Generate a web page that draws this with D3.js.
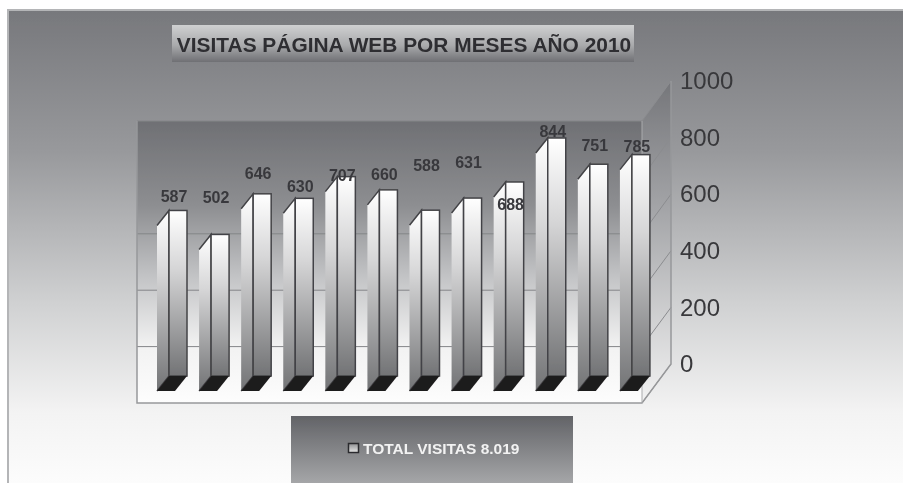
<!DOCTYPE html>
<html>
<head>
<meta charset="utf-8">
<script src="https://cdn.jsdelivr.net/npm/d3@7"></script>
<style>
  html, body { margin: 0; padding: 0; background: #fff; }
  svg { display: block; font-family: "Liberation Sans", Arial, sans-serif; }
</style>
</head>
<body>
<div id="chart"></div>
<script>
"use strict";

// values
const months = ["Ene", "Feb", "Mar", "Abr", "May", "Jun", "Jul", "Ago", "Sep", "Oct", "Nov", "Dic"];
const visitas = [587, 502, 646, 630, 707, 660, 588, 631, 688, 844, 751, 785];
const yTicks = [0, 200, 400, 600, 800, 1000];
const chartTitle = "VISITAS PÁGINA WEB POR MESES AÑO 2010";
const legendText = "TOTAL VISITAS 8.019";

// the value labels sit at uneven heights in the original
const labelLift = [14, 37, 20, 12, 1, 15, 45, 36, -22, 7, 19, 8];

const width = 903, height = 483;

// the three planes of the fake 3d box share one scale span, only shifted
const x = d3.scaleBand().domain(months).range([137, 642]);
const yWall = d3.scaleLinear().domain([0, 1000]).range([403, 121]);
const yBar = d3.scaleLinear().domain([0, 1000]).range([376, 94]);
const yAxis = d3.scaleLinear().domain([0, 1000]).range([364, 81]);

const sideDepth = 29;     // right wall, horizontal
const barInset = 20;      // from the band start to the bar's left edge
const barDepth = 12;      // side face width
const barFront = 18;      // front face width
const barDrop = 15;       // side face vertical shift
const labelShift = 17;    // label centre from the bar's left edge

const svg = d3.select("#chart").append("svg")
    .attr("width", width)
    .attr("height", height);

const defs = svg.append("defs");

function gradient(id, stops) {
  const g = defs.append("linearGradient").attr("id", id)
      .attr("x1", 0).attr("y1", 0).attr("x2", 0).attr("y2", 1);
  stops.forEach(function(s) {
    g.append("stop").attr("offset", s[0]).attr("stop-color", s[1]);
  });
}

gradient("panelGrad", [[0, "#77787c"], [0.3, "#98999c"], [0.62, "#d0d1d2"], [0.85, "#f3f3f3"], [1, "#fcfcfc"]]);
gradient("wallGrad", [[0, "#6f7074"], [0.3, "#8d8e91"], [0.55, "#c2c3c5"], [0.8, "#f2f2f2"], [1, "#fdfdfd"]]);
gradient("sideGrad", [[0, "#75767a"], [0.4, "#a4a5a8"], [1, "#f2f2f2"]]);
gradient("barGrad", [[0, "#ffffff"], [0.35, "#d6d6d7"], [1, "#727375"]]);
gradient("titleGrad", [[0, "#cfd0d1"], [0.55, "#a9aaac"], [1, "#6f7074"]]);
gradient("legendGrad", [[0, "#626367"], [1, "#a5a6a8"]]);
gradient("keyGrad", [[0, "#8e8f91"], [1, "#e8e8e8"]]);

// the original is a soft scan, everything gets a slight blur
defs.append("filter").attr("id", "soft")
    .attr("filterUnits", "userSpaceOnUse")
    .attr("x", 0).attr("y", 0)
    .attr("width", width).attr("height", height)
    .append("feGaussianBlur").attr("stdDeviation", 0.5);

const root = svg.append("g").attr("filter", "url(#soft)");

// page background
root.append("rect")
    .attr("x", 8).attr("y", 10)
    .attr("width", width - 8).attr("height", height - 10)
    .attr("fill", "url(#panelGrad)");
root.append("path")
    .attr("d", d3.line()([[8, height], [8, 10], [width, 10]]))
    .attr("fill", "none")
    .attr("stroke", "#b4b5b7")
    .attr("stroke-width", 2);

// title
const title = root.append("g");
title.append("rect")
    .attr("x", 172).attr("y", 25)
    .attr("width", 462).attr("height", 37)
    .attr("fill", "url(#titleGrad)");
title.append("text")
    .attr("x", 404).attr("y", 51.5)
    .attr("text-anchor", "middle")
    .attr("font-size", 20.9)
    .attr("font-weight", "bold")
    .attr("fill", "#2e2e31")
    .text(chartTitle);

// back wall and gridlines
const plot = root.append("g");
plot.append("rect")
    .attr("x", x.range()[0]).attr("y", yWall(1000))
    .attr("width", x.range()[1] - x.range()[0])
    .attr("height", yWall(0) - yWall(1000))
    .attr("fill", "url(#wallGrad)");

plot.selectAll(".grid")
  .data(yTicks.slice(1))
  .enter().append("line")
    .attr("class", "grid")
    .attr("x1", x.range()[0]).attr("x2", x.range()[1])
    .attr("y1", yWall).attr("y2", yWall)
    .attr("stroke", "#848588");

// right wall
const wallRight = x.range()[1];
const sideX = wallRight + sideDepth;
plot.append("path")
    .attr("d", d3.line()([
      [wallRight, yWall(1000)], [sideX, yAxis(1000)],
      [sideX, yAxis(0)], [wallRight, yWall(0)]
    ]))
    .attr("fill", "url(#sideGrad)");

plot.selectAll(".sideGrid")
  .data(yTicks)
  .enter().append("line")
    .attr("class", "sideGrid")
    .attr("x1", wallRight).attr("x2", sideX)
    .attr("y1", yWall).attr("y2", yAxis)
    .attr("stroke", "#8b8c8f");

// outline of the box
plot.append("path")
    .attr("d", d3.line()([
      [x.range()[0], yWall(1000)], [x.range()[0], yWall(0)],
      [wallRight, yWall(0)], [sideX, yAxis(0)], [sideX, yAxis(1000)]
    ]))
    .attr("fill", "none")
    .attr("stroke", "#97989a")
    .attr("stroke-width", 1.5);
plot.append("line")
    .attr("x1", wallRight).attr("x2", wallRight)
    .attr("y1", yWall(1000)).attr("y2", yWall(0))
    .attr("stroke", "#aaabad");

// y axis, labels only
const axis = root.append("g")
    .attr("transform", "translate(" + (sideX + 9) + ",0)")
    .call(d3.axisRight(yAxis).tickValues(yTicks).tickSize(0).tickPadding(0).tickFormat(d3.format("d")));
axis.select(".domain").remove();
axis.selectAll("text")
    .attr("font-family", "'Liberation Sans', Arial, sans-serif")
    .attr("font-size", 24)
    .attr("fill", "#38383b");

// bars
const bars = root.selectAll(".bar")
  .data(months.map(function(m, i) { return {month: m, value: visitas[i], lift: labelLift[i]}; }))
  .enter().append("g")
    .attr("class", "bar");

function barLeft(d) { return x(d.month) + barInset; }

// side face
bars.append("path")
    .attr("d", function(d) {
      const l = barLeft(d);
      return d3.line()([
        [l, yBar(d.value) + barDrop], [l + barDepth, yBar(d.value)],
        [l + barDepth, yBar(0)], [l, yBar(0) + barDrop]
      ]);
    })
    .attr("fill", "url(#barGrad)")
    .attr("stroke", "#434346")
    .attr("stroke-width", 1.5);

// front face
bars.append("rect")
    .attr("x", function(d) { return barLeft(d) + barDepth; })
    .attr("y", function(d) { return yBar(d.value); })
    .attr("width", barFront)
    .attr("height", function(d) { return yBar(0) - yBar(d.value); })
    .attr("fill", "url(#barGrad)")
    .attr("stroke", "#434346")
    .attr("stroke-width", 1.5);

// floor shadow
bars.append("path")
    .attr("d", function(d) {
      const l = barLeft(d);
      return d3.line()([
        [l, yBar(0) + barDrop], [l + barDepth, yBar(0)],
        [l + barDepth + barFront, yBar(0)], [l + barFront, yBar(0) + barDrop]
      ]);
    })
    .attr("fill", "#1f1d1e");

// value labels
bars.append("text")
    .attr("x", function(d) { return barLeft(d) + labelShift; })
    .attr("y", function(d) { return yBar(d.value) - d.lift; })
    .attr("dy", "0.35em")
    .attr("text-anchor", "middle")
    .attr("font-size", 16)
    .attr("font-weight", "bold")
    .attr("fill", "#39393c")
    .text(function(d) { return d.value; });

// legend
const legend = root.append("g");
legend.append("rect")
    .attr("x", 291).attr("y", 416)
    .attr("width", 282).attr("height", 67)
    .attr("fill", "url(#legendGrad)");
legend.append("rect")
    .attr("x", 348.5).attr("y", 443.5)
    .attr("width", 10).attr("height", 9)
    .attr("fill", "url(#keyGrad)")
    .attr("stroke", "#2c2c2e")
    .attr("stroke-width", 1.5);
legend.append("text")
    .attr("x", 363).attr("y", 453.5)
    .attr("font-size", 15.5)
    .attr("font-weight", "bold")
    .attr("fill", "#f2f2f2")
    .text(legendText);
</script>
</body>
</html>
